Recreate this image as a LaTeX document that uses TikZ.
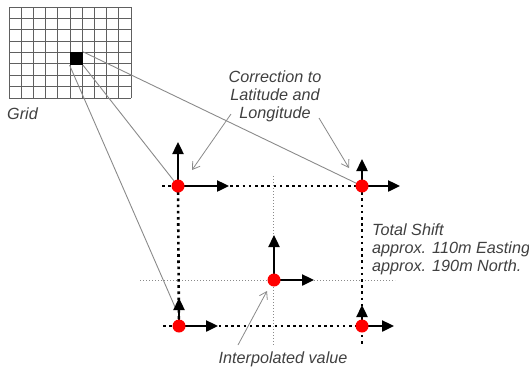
\documentclass[tikz,border=0pt]{standalone}
\usepackage{fontspec}
\setmainfont{Liberation Sans}
\usetikzlibrary{arrows.meta}
\definecolor{txtgray}{HTML}{404040}
\definecolor{linegray}{HTML}{8A8A8A}
\definecolor{gridgray}{HTML}{606060}
\tikzset{
  lbl/.style={font=\fontsize{16.2}{18}\selectfont\itshape, text=txtgray, inner sep=0pt, align=center},
  dotnode/.style={circle, fill=red, draw=none, minimum size=13pt, inner sep=0pt},
  vec/.style={line width=2.4pt, -{Triangle[length=12pt,width=11pt]}},
  bigdots/.style={line width=2.6pt, dash pattern=on 2.6pt off 3.6pt},
  faint/.style={linegray, line width=0.6pt, dash pattern=on 1pt off 2pt},
  link/.style={linegray, line width=0.9pt},
  pointer/.style={linegray, line width=0.8pt, -{Straight Barb[length=7pt,width=9pt]}}
}
\begin{document}
\begin{tikzpicture}[x=1pt,y=-1pt]
\useasboundingbox (0,0) rectangle (529,367);
% grid
\foreach \i in {0,...,10} \draw[gridgray, line width=1pt] (9+\i*12.2,7) -- (9+\i*12.2,98);
\foreach \j in {0,...,8} \draw[gridgray, line width=1pt] (9,7+\j*11.375) -- (131,7+\j*11.375);
\node[fill=black, minimum size=13pt, inner sep=0pt] (sq) at (76.3,58.5) {};
\node[lbl, anchor=west] (gridlbl) at (7,114) {Grid};
% positions
\coordinate (tl) at (178,186);
\coordinate (tr) at (362,186);
\coordinate (cc) at (274,280);
\coordinate (bl) at (179,326);
\coordinate (br) at (362,326);
% faint center guides
\coordinate (hL) at (140,280); \coordinate (hR) at (395,280);
\coordinate (vT) at (273,176); \coordinate (vB) at (273,346);
\draw[faint] (hL) -- (hR);
\draw[faint] (vT) -- (vB);
% thick dotted grid cell
\coordinate (tlW) at (162,186);
\coordinate (blW) at (163,326);
\coordinate (blS) at (179,334);
\coordinate (brS) at (362,344);
\draw[bigdots] (tlW) -- (tr);
\draw[bigdots] (blW) -- (br);
\draw[bigdots] (tl) -- (blS);
\draw[bigdots] (tr) -- (brS);
% links from grid cell
\draw[link] (sq.north east) -- (tr);
\draw[link] (sq.south east) -- (tl);
\coordinate (blEnd) at (175,307);
\draw[link] (sq.south west) -- (blEnd);
% vectors
\coordinate (tlU) at (178,142); \coordinate (tlR) at (229,186);
\coordinate (trU) at (362,159); \coordinate (trR) at (400,186);
\coordinate (ccU) at (274,235); \coordinate (ccR) at (314,280);
\coordinate (blU) at (179,298); \coordinate (blR) at (218,326);
\coordinate (brU) at (362,305); \coordinate (brR) at (394,326);
\foreach \p in {tl,tr,cc,bl,br} {
  \draw[vec] (\p) -- (\p U);
  \draw[vec] (\p) -- (\p R);
}
% dots
\node[dotnode] (tld) at (tl) {};
\node[dotnode] (trd) at (tr) {};
\node[dotnode] (ccd) at (cc) {};
\node[dotnode] (bld) at (bl) {};
\node[dotnode] (brd) at (br) {};
% labels
\node[lbl] (corr) at (275,96) {Correction to\\Latitude and\\Longitude};
\coordinate (c1s) at (231,114); \coordinate (c1e) at (192,170);
\coordinate (c2s) at (319,118); \coordinate (c2e) at (349,168);
\draw[pointer] (c1s) -- (c1e);
\draw[pointer] (c2s) -- (c2e);
\node[lbl, align=left, anchor=north west] (shift) at (372,224) {Total Shift\\approx. 110m Easting\\approx. 190m North.};
\node[lbl] (interp) at (283,359) {Interpolated value};
\coordinate (i1s) at (238,345); \coordinate (i1e) at (267,291);
\draw[pointer] (i1s) -- (i1e);
\end{tikzpicture}
\end{document}
